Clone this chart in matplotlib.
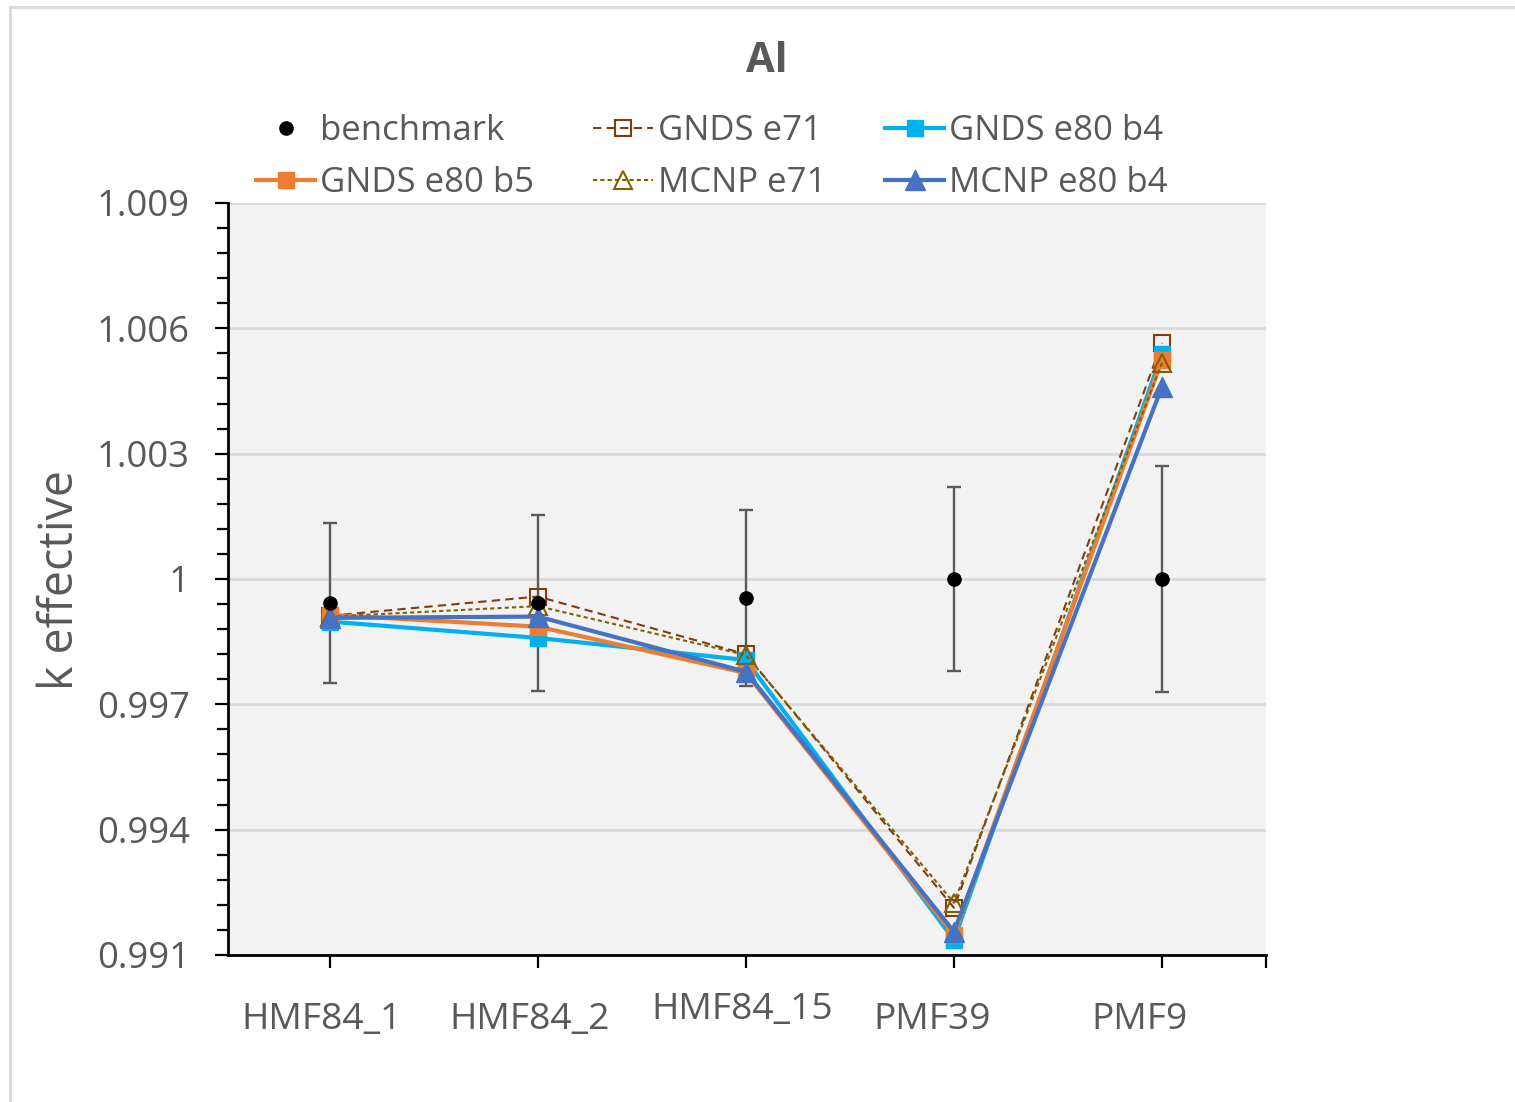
import numpy as np
import matplotlib
matplotlib.use("Agg")
import matplotlib.pyplot as plt
from matplotlib.patches import Rectangle
from matplotlib.ticker import FixedLocator, FuncFormatter
from matplotlib.transforms import ScaledTranslation

plt.rcParams['font.family'] = ['Open Sans', 'DejaVu Sans']

cases = ["HMF84_1", "HMF84_2", "HMF84_15", "PMF39", "PMF9"]

benchmark = [0.99943, 0.99943, 0.99954, 1.00000, 1.00000]
bench_unc = [0.00191, 0.00210, 0.00210, 0.00220, 0.00270]

gnds_e71 = [0.99912, 0.99958, 0.99820, 0.99213, 1.00565]
gnds_e80_b4 = [0.99898, 0.99859, 0.99806, 0.99136, 1.00538]
gnds_e80_b5 = [0.99914, 0.99886, 0.99775, 0.99148, 1.00524]
mcnp_e71 = [0.99910, 0.99935, 0.99818, 0.99225, 1.00517]
mcnp_e80_b4 = [0.99907, 0.99910, 0.99778, 0.99156, 1.00460]

ytick_vals = [0.991, 0.994, 0.997, 1.000, 1.003, 1.006, 1.009]

grey = "#595959"
x = np.arange(len(cases))

fig = plt.figure(figsize=(15.15, 11.02), dpi=100)
ax = fig.add_axes([0.1505, 0.1334, 0.6851, 0.6824])
ax.set_facecolor("#F2F2F2")

# light frame round the whole chart
fig.patches.append(Rectangle((10 / 1515, -0.05), 1.1, 1 - 7 / 1102 + 0.05,
                             transform=fig.transFigure, fill=False,
                             edgecolor="#D9D9D9", linewidth=2.0, zorder=0))

ax.errorbar(x, benchmark, yerr=bench_unc, fmt="none", ecolor="#5A5A5A",
            elinewidth=1.7, capsize=5, capthick=1.7, zorder=2)

h_ge71, = ax.plot(x, gnds_e71, color="#843C0C", linestyle=(0, (4, 2.5)),
                  linewidth=1.5, marker="s", markersize=11, markerfacecolor="none",
                  markeredgecolor="#843C0C", markeredgewidth=1.5, zorder=3,
                  label="GNDS e71")
h_gb4, = ax.plot(x, gnds_e80_b4, color="#00B0F0", linewidth=3.0, marker="s",
                 markersize=12, zorder=4, label="GNDS e80 b4")
h_gb5, = ax.plot(x, gnds_e80_b5, color="#ED7D31", linewidth=3.0, marker="s",
                 markersize=12, zorder=5, label="GNDS e80 b5")
h_me71, = ax.plot(x, mcnp_e71, color="#806000", linestyle=(0, (2, 1.5)),
                  linewidth=1.5, marker="^", markersize=13, markerfacecolor="none",
                  markeredgecolor="#806000", markeredgewidth=1.5, zorder=6,
                  label="MCNP e71")
h_mb4, = ax.plot(x, mcnp_e80_b4, color="#4472C4", linewidth=3.0, marker="^",
                 markersize=14, zorder=7, label="MCNP e80 b4")
h_bench, = ax.plot(x, benchmark, linestyle="none", marker="o", markersize=9.5,
                   color="black", zorder=8, label="benchmark")

ax.set_xlim(-0.49, 4.5)
ax.set_ylim(0.991, 1.009)

ax.yaxis.set_major_locator(FixedLocator(ytick_vals))
ax.yaxis.set_minor_locator(FixedLocator(np.arange(0.991, 1.0091, 0.0006)))
ax.yaxis.set_major_formatter(FuncFormatter(
    lambda v, p: ("%.3f" % v).rstrip("0").rstrip(".")))
ax.grid(axis="y", which="major", color="#D9D9D9", linewidth=2.0, zorder=0)
ax.set_axisbelow(True)

ax.set_xticks(list(x) + [4.5])
ax.set_xticklabels(cases + [""])

for side in ("top", "right"):
    ax.spines[side].set_visible(False)
for side in ("left", "bottom"):
    ax.spines[side].set_linewidth(2.0)
    ax.spines[side].set_color("black")

ax.tick_params(axis="y", which="major", direction="out", length=9.5, width=1.6,
               pad=18, labelsize=26.3, labelcolor=grey, color="black")
ax.tick_params(axis="y", which="minor", direction="out", length=8, width=1.6,
               color="black")
ax.tick_params(axis="x", which="major", direction="out", length=9, width=1.6,
               pad=25, labelsize=26.8, labelcolor=grey, color="black")

# category labels sit a little off their ticks
label_shift = [(-6, 0), (-6, 0), (-3, 7), (-16, 0), (-16, 0)]
for lab, (dx, dy) in zip(ax.get_xticklabels(), label_shift):
    lab.set_transform(lab.get_transform() +
                      ScaledTranslation(dx / 72, dy / 72, fig.dpi_scale_trans))

fig.text(767 / 1515, 1 - 62 / 1102, "Al", ha="center", va="center",
         fontsize=30, fontweight="bold", color=grey)
fig.text(60 / 1515, 1 - 580 / 1102, "k effective", ha="center", va="center",
         rotation=90, fontsize=33.5, color=grey)

handles = [h_bench, h_gb5, h_ge71, h_me71, h_gb4, h_mb4]
leg = fig.legend(handles=handles, labels=[h.get_label() for h in handles],
                 ncol=3, loc="center", bbox_to_anchor=(0.470, 1 - 157 / 1102),
                 frameon=False, fontsize=25, handlelength=1.7,
                 handletextpad=0.15, columnspacing=1.7, labelspacing=0.52,
                 borderpad=0.0)
for t in leg.get_texts():
    t.set_color(grey)

fig.savefig("out.png", dpi=100)
